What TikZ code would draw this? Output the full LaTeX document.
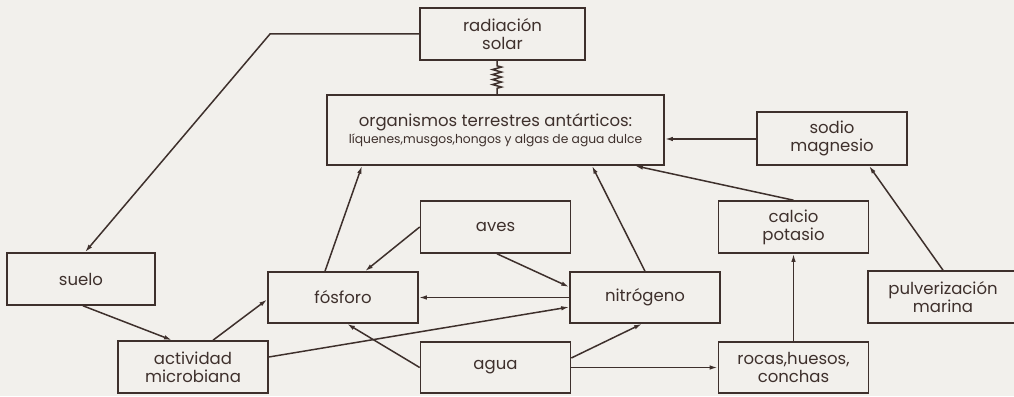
\documentclass[tikz,border=0pt]{standalone}
\usepackage{fontspec}
\setmainfont{Poppins}
\usetikzlibrary{arrows.meta,decorations.pathmorphing}
\definecolor{bg}{RGB}{242,240,236}
\definecolor{ink}{RGB}{62,48,44}
\tikzset{
  box/.style={draw=ink, line width=1.6pt, minimum width=150pt, minimum height=52pt,
    inner sep=0pt, align=center, text=ink, font=\fontsize{16.5}{18}\selectfont},
  conn/.style={draw=ink, line width=1.5pt, -{Latex[length=8pt,width=4.5pt]}},
  coil/.style={draw=ink, line width=1.5pt, decorate,
    decoration={zigzag, segment length=5pt, amplitude=4.5pt, pre length=5pt, post length=4pt}}
}
\begin{document}
\begin{tikzpicture}[x=1pt,y=-1pt]
\fill[bg] (0,0) rectangle (1014,396);
\useasboundingbox (0,0) rectangle (1014,396);

\node[box, minimum width=165pt] (radiacion) at (502.5,34) {radiación\\solar};
\node[box, minimum width=337pt, minimum height=70pt] (organismos) at (495.5,130)
  {organismos terrestres antárticos:\\[-1pt]{\fontsize{12.3}{14}\selectfont líquenes,musgos,hongos y algas de agua dulce}};
\node[box, minimum height=53pt] (sodio) at (832,138.5) {sodio\\magnesio};
\node[box] (aves) at (495.5,227) {aves};
\node[box] (calcio) at (793.5,227) {calcio\\potasio};
\node[box, minimum width=148pt] (suelo) at (81,279) {suelo};
\node[box, minimum height=51pt] (fosforo) at (343,297.5) {fósforo};
\node[box, minimum height=51pt] (nitrogeno) at (645,297.5) {nitrógeno};
\node[box] (pulverizacion) at (943,297) {pulverización\\marina};
\node[box] (actividad) at (193,367) {actividad\\microbiana};
\node[box, minimum height=51pt] (agua) at (495.5,367.5) {agua};
\node[box, minimum height=51pt] (rocas) at (793.5,367.5) {rocas,huesos,\\conchas};

\coordinate (bend) at (270,34);
\draw[conn] (radiacion.west) -- (bend) -- ([xshift=4pt]suelo.north);
\draw[coil] ([xshift=-5.5pt]radiacion.south) -- ([xshift=-5.5pt]radiacion.south |- organismos.north);
\draw[conn] ([yshift=-0.5pt]sodio.west) -- ([yshift=-0.5pt]sodio.west -| organismos.east);
\draw[conn] (calcio.north) -- ([xshift=139.5pt]organismos.south);
\draw[conn] (nitrogeno.north) -- ([xshift=96.5pt]organismos.south);
\draw[conn] ([xshift=-18pt]fosforo.north) -- ([xshift=-133.5pt]organismos.south);
\draw[conn] (pulverizacion.north) -- ([xshift=37pt]sodio.south);
\draw[conn] (rocas.north) -- (calcio.south);
\draw[conn] (aves.west) -- ([xshift=22pt]fosforo.north);
\draw[conn] ([xshift=1.5pt]aves.south) -- ([yshift=10.5pt]nitrogeno.west);
\draw[conn] (nitrogeno.west) -- (fosforo.east);
\draw[conn] ([yshift=10pt]actividad.east) -- ([yshift=-9.5pt]nitrogeno.west);
\draw[conn] ([xshift=20pt]actividad.north) -- ([yshift=-2pt]fosforo.west);
\draw[conn] ([xshift=2pt]suelo.south) -- ([xshift=-21pt]actividad.north);
\draw[conn] (agua.west) -- ([xshift=4pt]fosforo.south);
\draw[conn] ([yshift=9.5pt]agua.east) -- ([xshift=-3pt]nitrogeno.south);
\draw[conn] (agua.east) -- (rocas.west);
\end{tikzpicture}
\end{document}
